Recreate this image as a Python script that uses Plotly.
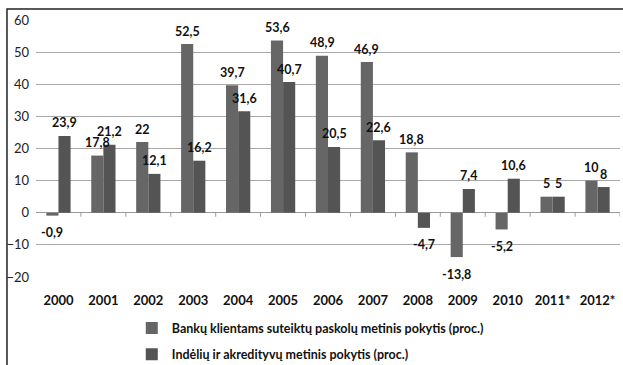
import plotly.graph_objects as go

years = ["2000", "2001", "2002", "2003", "2004", "2005", "2006",
         "2007", "2008", "2009", "2010", "2011*", "2012*"]
loans = [-0.9, 17.8, 22, 52.5, 39.7, 53.6, 48.9, 46.9, 18.8, -13.8, -5.2, 5, 10]
deposits = [23.9, 21.2, 12.1, 16.2, 31.6, 40.7, 20.5, 22.6, -4.7, 7.4, 10.6, 5, 8]

name_loans = "Bankų klientams suteiktų paskolų metinis pokytis (proc.)"
name_deposits = "Indėlių ir akredityvų metinis pokytis (proc.)"


def fmt(v):
    return f"{v:g}".replace(".", ",")


label_font = dict(family="Lato, sans-serif", size=12.5, color="#111111", weight="bold")
BAR_HALF_SHIFT = 6  # px from category centre to each bar's centre

fig = go.Figure()
fig.add_trace(go.Bar(
    x=years, y=loans, name=name_loans, legendgroup="loans",
    marker=dict(color="#666666", line=dict(width=0)),
))
fig.add_trace(go.Bar(
    x=years, y=deposits, name=name_deposits, legendgroup="deposits",
    marker=dict(color="#545454", line=dict(width=0)),
))

# value labels: above positive bars, below negative ones
# (positioned by category index so year-like names are not read as numbers)
annotations = []
for series, shift in ((loans, -BAR_HALF_SHIFT), (deposits, BAR_HALF_SHIFT)):
    for idx, v in enumerate(series):
        annotations.append(dict(
            x=idx, y=v, xref="x", yref="y", text=fmt(v), showarrow=False,
            xshift=shift, yshift=13 if v >= 0 else -17,
            xanchor="center", yanchor="middle", font=label_font,
        ))

shapes = [dict(
    type="rect", xref="paper", yref="paper",
    x0=-0.0497, x1=1.03, y0=-0.4, y1=1.043,
    line=dict(color="#222222", width=1.5), layer="below",
)]
# small category-boundary ticks hanging from the zero line
for i in range(1, len(years) + 1):
    shapes.append(dict(
        type="line", xref="x", yref="y", x0=i - 0.5, x1=i - 0.5,
        ysizemode="pixel", yanchor=0, y0=0, y1=-4,
        line=dict(color="#9a9a9a", width=1), layer="below",
    ))

fig.update_layout(
    width=623, height=365,
    margin=dict(l=36, r=3, t=20, b=88, autoexpand=False),
    paper_bgcolor="white", plot_bgcolor="white",
    barmode="group", bargap=0.46, bargroupgap=0,
    font=dict(family="Lato, sans-serif", size=13, color="#111111"),
    showlegend=True,
    legend=dict(
        orientation="v", x=0.164, xanchor="left", y=-0.142, yanchor="top",
        font=dict(family="Lato, sans-serif", size=12.5, color="#111111", weight="bold"),
        itemwidth=30, tracegroupgap=7, bgcolor="rgba(0,0,0,0)",
    ),
    annotations=annotations,
    shapes=shapes,
    xaxis=dict(
        type="category", categoryorder="array", categoryarray=years,
        range=[-0.5, len(years) - 0.5],
        showgrid=False, showline=False, ticks="",
        tickfont=dict(family="Lato, sans-serif", size=13, color="#111111", weight="bold"),
        ticklabelstandoff=14,
    ),
)

fig.update_yaxes(
    range=[-20, 60], dtick=10, showgrid=True, gridcolor="#a8a8a8", gridwidth=1,
    zeroline=True, zerolinecolor="#9a9a9a", zerolinewidth=1,
    showline=False, ticks="",
    tickfont=dict(family="Lato, sans-serif", size=13, color="#222222"),
    ticklabelstandoff=6,
)

fig.write_html("out.html")
